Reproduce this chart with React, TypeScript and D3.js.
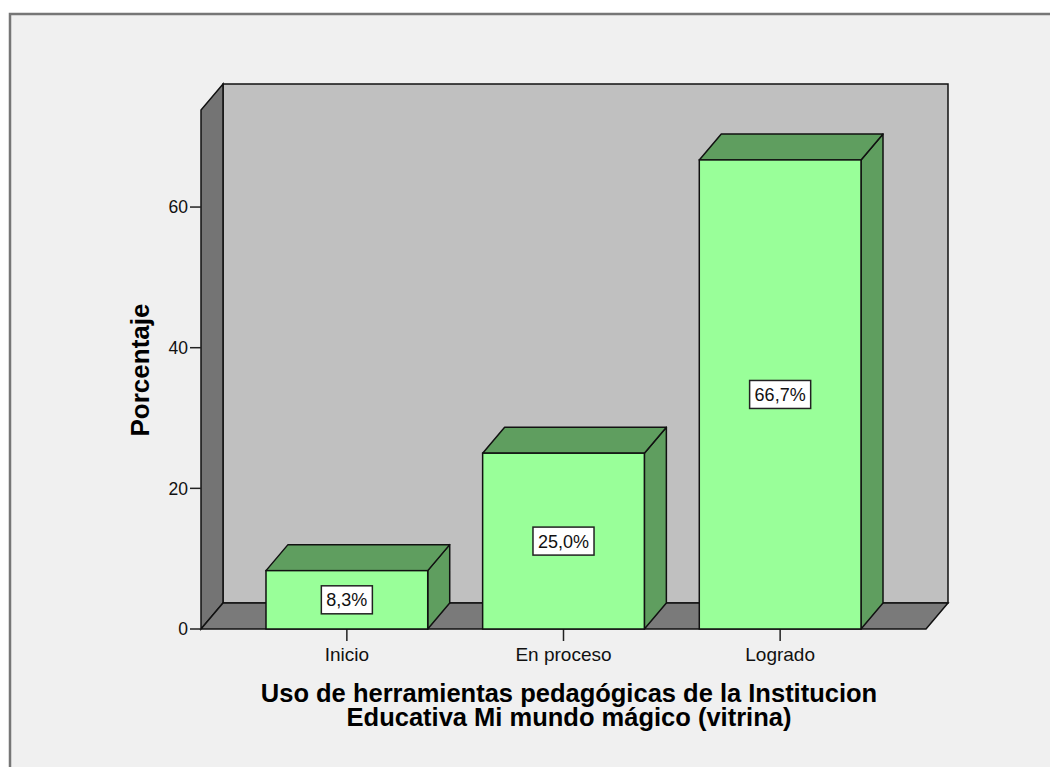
import React, { useEffect, useRef } from "react";
import * as d3 from "d3";

const categories = ["Inicio", "En proceso", "Logrado"];
const percentages = [8.3, 25.0, 66.7];
const yTicks = [0, 20, 40, 60];
const yAxisTitle = "Porcentaje";
const xAxisTitleLines = [
  "Uso de herramientas pedagógicas de la Institucion",
  "Educativa Mi mundo mágico (vitrina)",
];

const W = 1050;
const H = 767;

export default function App() {
  const ref = useRef<SVGSVGElement | null>(null);

  useEffect(() => {
    const svg = d3.select(ref.current);
    svg.selectAll("*").remove();
    const font = "'Liberation Sans', Arial, sans-serif";

    const x0 = 201, x1 = 926;
    const yBase = 629, yTop = 110;
    const dx = 22, dy = -26;

    const y = d3.scaleLinear().domain([0, 73.8]).range([yBase, yTop]);
    const x = d3
      .scaleBand<string>()
      .domain(categories)
      .range([x0, x1])
      .paddingInner(0.2535)
      .paddingOuter(0.3);

    // page background and frame
    svg.append("rect").attr("x", 0).attr("y", 0).attr("width", W).attr("height", H).attr("fill", "#ffffff");
    svg
      .append("rect")
      .attr("x", 10)
      .attr("y", 14)
      .attr("width", W + 20)
      .attr("height", H + 20)
      .attr("fill", "#f0f0f0")
      .attr("stroke", "#767676")
      .attr("stroke-width", 2.5);

    const g = svg.append("g");
    const edge = "#111";
    const poly = (pts: [number, number][]) => pts.map((p) => p.join(",")).join(" ");

    // back wall
    g.append("polygon")
      .attr("points", poly([[x0 + dx, y(0) + dy], [x0 + dx, yTop + dy], [x1 + dx, yTop + dy], [x1 + dx, y(0) + dy]]))
      .attr("fill", "#c0c0c0")
      .attr("stroke", edge)
      .attr("stroke-width", 1.5);
    // left side wall
    g.append("polygon")
      .attr("points", poly([[x0, yBase], [x0, yTop], [x0 + dx, yTop + dy], [x0 + dx, yBase + dy]]))
      .attr("fill", "#747474")
      .attr("stroke", edge)
      .attr("stroke-width", 1.5);
    // floor
    g.append("polygon")
      .attr("points", poly([[x0, yBase], [x0 + dx, yBase + dy], [x1 + dx, yBase + dy], [x1, yBase]]))
      .attr("fill", "#7a7a7a")
      .attr("stroke", edge)
      .attr("stroke-width", 1.5);

    // y axis ticks
    yTicks.forEach((t) => {
      g.append("line")
        .attr("x1", x0 - 11)
        .attr("x2", x0)
        .attr("y1", y(t))
        .attr("y2", y(t))
        .attr("stroke", "#222")
        .attr("stroke-width", 1.5);
      g.append("text")
        .attr("x", x0 - 13)
        .attr("y", y(t))
        .attr("dy", "0.36em")
        .attr("text-anchor", "end")
        .attr("font-family", font)
        .attr("font-size", 17.5)
        .attr("fill", "#111")
        .text(String(t));
    });

    // x axis ticks
    categories.forEach((c) => {
      const cx = (x(c) as number) + x.bandwidth() / 2;
      g.append("line")
        .attr("x1", cx)
        .attr("x2", cx)
        .attr("y1", yBase)
        .attr("y2", yBase + 12)
        .attr("stroke", "#222")
        .attr("stroke-width", 1.5);
      g.append("text")
        .attr("x", cx)
        .attr("y", yBase + 25)
        .attr("dy", "0.36em")
        .attr("text-anchor", "middle")
        .attr("font-family", font)
        .attr("font-size", 19)
        .attr("fill", "#111")
        .text(c);
    });

    // bars
    const fmt = d3.format(".1f");
    categories.forEach((c, i) => {
      const v = percentages[i];
      const bx = x(c) as number;
      const bw = x.bandwidth();
      const by = y(v);
      g.append("polygon")
        .attr("points", poly([[bx + bw, yBase], [bx + bw, by], [bx + bw + dx, by + dy], [bx + bw + dx, yBase + dy]]))
        .attr("fill", "#5f9e5f")
        .attr("stroke", edge)
        .attr("stroke-width", 1.5)
        .attr("stroke-linejoin", "round");
      g.append("polygon")
        .attr("points", poly([[bx, by], [bx + dx, by + dy], [bx + bw + dx, by + dy], [bx + bw, by]]))
        .attr("fill", "#5f9e5f")
        .attr("stroke", edge)
        .attr("stroke-width", 1.5)
        .attr("stroke-linejoin", "round");
      g.append("rect")
        .attr("x", bx)
        .attr("y", by)
        .attr("width", bw)
        .attr("height", yBase - by)
        .attr("fill", "#99ff99")
        .attr("stroke", edge)
        .attr("stroke-width", 1.5);

      const cx = bx + bw / 2;
      const cy = (by + yBase) / 2;
      const lab = g.append("g");
      const box = lab.append("rect");
      const txt = lab
        .append("text")
        .attr("x", cx)
        .attr("y", cy)
        .attr("dy", "0.36em")
        .attr("text-anchor", "middle")
        .attr("font-family", font)
        .attr("font-size", 18)
        .attr("fill", "#111")
        .text(fmt(v).replace(".", ",") + "%");
      const tw = (txt.node() as SVGTextElement).getComputedTextLength();
      box
        .attr("x", cx - tw / 2 - 5)
        .attr("y", cy - 14)
        .attr("width", tw + 10)
        .attr("height", 28)
        .attr("fill", "#ffffff")
        .attr("stroke", "#222")
        .attr("stroke-width", 1.5);
    });

    // axis titles
    g.append("text")
      .attr("transform", `translate(149,370) rotate(-90)`)
      .attr("text-anchor", "middle")
      .attr("font-family", font)
      .attr("font-weight", "bold")
      .attr("font-size", 26)
      .attr("fill", "#000")
      .text(yAxisTitle);

    xAxisTitleLines.forEach((line, i) => {
      g.append("text")
        .attr("x", 569)
        .attr("y", 702 + i * 24)
        .attr("text-anchor", "middle")
        .attr("font-family", font)
        .attr("font-weight", "bold")
        .attr("font-size", 25.5)
        .attr("fill", "#000")
        .text(line);
    });
  }, []);

  return (
    <svg
      ref={ref}
      width={W}
      height={H}
      style={{ position: "absolute", left: 0, top: 0, display: "block" }}
    />
  );
}
